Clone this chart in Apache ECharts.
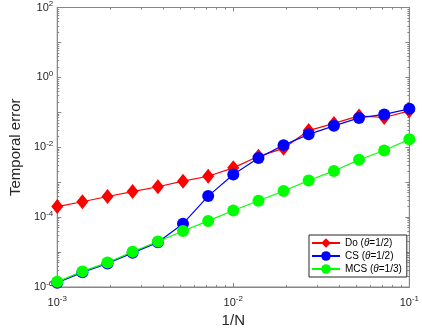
<!DOCTYPE html>
<html><head><meta charset="utf-8">
<script src="https://cdn.jsdelivr.net/npm/echarts@6/dist/echarts.min.js"></script>
<style>html,body{margin:0;padding:0;background:#fff}#c{width:422px;height:333px}</style>
</head><body><div id="c"></div>
<script>
const xValues = [0.001, 0.00139, 0.00193, 0.00268, 0.00373, 0.00518, 0.0072, 0.01, 0.0139, 0.0193, 0.0268, 0.0373, 0.0518, 0.072, 0.1];
const doValues = [2.0e-4, 2.75e-4, 3.9e-4, 5.4e-4, 7.4e-4, 1.07e-3, 1.48e-3, 2.57e-3, 5.5e-3, 9.3e-3, 0.030, 0.048, 0.079, 0.071, 0.11];
const csValues = [1.32e-6, 2.63e-6, 4.7e-6, 9.5e-6, 1.9e-5, 6.5e-5, 4.0e-4, 1.66e-3, 4.9e-3, 0.0115, 0.0234, 0.041, 0.069, 0.087, 0.126];
const mcsValues = [1.41e-6, 2.8e-6, 5.0e-6, 1.02e-5, 2.0e-5, 4.0e-5, 7.8e-5, 1.55e-4, 2.95e-4, 5.6e-4, 1.12e-3, 2.1e-3, 4.4e-3, 8.1e-3, 0.017];
const seriesNames = ['Do (θ=1/2)', 'CS (θ=1/2)', 'MCS (θ=1/3)'];
const legendRich = {'Do (θ=1/2)': 'Do ({i|θ}=1/2)', 'CS (θ=1/2)': 'CS ({i|θ}=1/2)', 'MCS (θ=1/3)': 'MCS ({i|θ}=1/3)'};

const pair = (ys) => xValues.map((x, i) => [x, ys[i]]);
const font = 'Liberation Sans, Arial, sans-serif';
const axisGray = '#868686';
const labelColor = '#262626';
const supRich = {
  b: {fontSize: 11, fontFamily: font, color: labelColor},
  s: {fontSize: 8, fontFamily: font, color: labelColor, padding: [0, 0, 7, 0]}
};
function powLabel(v, onlyEven) {
  const e = Math.round(Math.log10(v));
  if (onlyEven && e % 2 !== 0) return '';
  return '{b|10}{s|' + e + '}';
}
const tickCommon = {show: true, inside: true, length: 4, lineStyle: {color: axisGray}};
const minorCommon = {show: true, splitNumber: 9, length: 2, lineStyle: {color: axisGray}};
const chart = echarts.init(document.getElementById('c'), null, {renderer: 'canvas'});
chart.setOption({
  animation: false,
  backgroundColor: '#fff',
  grid: {left: 45, right: 9, top: 6, bottom: 43, show: true, borderColor: axisGray, borderWidth: 1},
  xAxis: [{
    type: 'log', logBase: 10, min: 0.001, max: 0.1,
    name: '1/N', nameLocation: 'middle', nameGap: 26,
    nameTextStyle: {fontSize: 15, fontFamily: font, color: labelColor},
    axisLine: {show: true, lineStyle: {color: axisGray}},
    axisTick: tickCommon, minorTick: minorCommon,
    splitLine: {show: false}, minorSplitLine: {show: false},
    axisLabel: {margin: 8, formatter: v => powLabel(v, false), rich: supRich}
  }, {
    type: 'log', logBase: 10, min: 0.001, max: 0.1, position: 'top',
    axisLine: {show: true, lineStyle: {color: axisGray}},
    axisTick: tickCommon, minorTick: minorCommon,
    splitLine: {show: false}, axisLabel: {show: false}
  }],
  yAxis: [{
    type: 'log', logBase: 10, min: 1e-6, max: 100,
    name: 'Temporal error', nameLocation: 'middle', nameGap: 30,
    nameTextStyle: {fontSize: 15, fontFamily: font, color: labelColor},
    axisLine: {show: true, lineStyle: {color: axisGray}},
    axisTick: tickCommon, minorTick: minorCommon,
    splitLine: {show: false}, minorSplitLine: {show: false},
    axisLabel: {margin: 4, formatter: v => powLabel(v, true), rich: supRich}
  }, {
    type: 'log', logBase: 10, min: 1e-6, max: 100, position: 'right',
    axisLine: {show: true, lineStyle: {color: axisGray}},
    axisTick: tickCommon, minorTick: minorCommon,
    splitLine: {show: false}, axisLabel: {show: false}
  }],
  legend: {
    left: 309, top: 235, orient: 'vertical',
    data: seriesNames,
    itemWidth: 28, itemHeight: 12, itemGap: 3,
    padding: [3, 5, 3, 2],
    borderColor: '#262626', borderWidth: 1, backgroundColor: '#fff',
    textStyle: {fontSize: 10, fontFamily: font, color: '#000', rich: {i: {fontStyle: 'italic', fontSize: 10, fontFamily: font, color: '#000'}}},
    formatter: n => legendRich[n]
  },
  series: [
    {name: seriesNames[0], type: 'line', data: pair(doValues), symbol: 'diamond', symbolSize: [12, 15],
     itemStyle: {color: '#ff0000'}, lineStyle: {color: '#ff0000', width: 1.2}},
    {name: seriesNames[1], type: 'line', data: pair(csValues), symbol: 'circle', symbolSize: 12,
     itemStyle: {color: '#0000ff'}, lineStyle: {color: '#0000ff', width: 1.2}},
    {name: seriesNames[2], type: 'line', data: pair(mcsValues), symbol: 'circle', symbolSize: 12,
     itemStyle: {color: '#00ff00'}, lineStyle: {color: '#00ff00', width: 1.2}}
  ]
});
</script></body></html>
